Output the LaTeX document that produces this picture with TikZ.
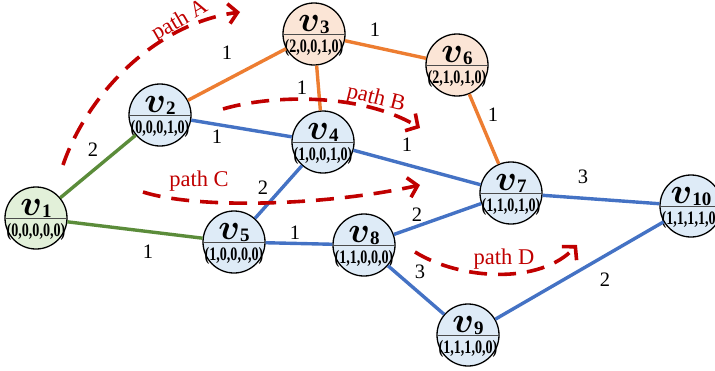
\RequirePackage{fix-cm}
\documentclass[tikz,border=0pt]{standalone}
\usepackage{fontspec}
\setmainfont{Liberation Serif}
\usepackage{bm}
\usepackage{graphicx}
\usetikzlibrary{arrows.meta}
\definecolor{fgreen}{HTML}{E2F0D9}
\definecolor{fblue}{HTML}{DEEBF7}
\definecolor{fpeach}{HTML}{FBE5D6}
\definecolor{egreen}{HTML}{5B8C3A}
\definecolor{eorange}{HTML}{ED7D31}
\definecolor{eblue}{HTML}{4472C4}
\definecolor{pathred}{HTML}{C00000}
\tikzset{
  vnode/.style={circle, draw=black, line width=1.3pt, minimum size=62pt, inner sep=0pt},
  divider/.style={draw=black!70, line width=0.6pt},
  vlabel/.style={inner sep=0pt},
  tlabel/.style={inner sep=0pt, font=\fontsize{19}{19}\selectfont\bfseries},
  gedge/.style={draw=egreen, line width=3.4pt},
  oedge/.style={draw=eorange, line width=3.4pt},
  bedge/.style={draw=eblue, line width=3.4pt},
  wlabel/.style={inner sep=0pt, font=\fontsize{20.5}{20.5}\selectfont},
  pathline/.style={draw=pathred, line width=3.6pt, dash pattern=on 18pt off 11pt,
    -{Straight Barb[length=9pt,width=20pt,line width=3.6pt]}},
  plabel/.style={inner sep=0pt, text=pathred, font=\fontsize{22.5}{22.5}\selectfont},
}
\newcommand{\vtx}[6]{%
  \node[vnode, fill=#4] (#1) at (#2,#3) {};
  \draw[divider] (#1.west) -- (#1.east);
  \node[vlabel, anchor=base, yshift=2.5pt] (#1t) at (#1.center)
    {{\fontsize{36}{36}\selectfont$\bm{v}$}\raisebox{-1.5pt}{\fontsize{19}{19}\selectfont\bfseries #5}};
  \node[tlabel, anchor=base, yshift=-18pt] (#1b) at (#1.center) {\scalebox{0.74}[1]{(#6)}};
}
\begin{document}
\begin{tikzpicture}[x=1pt, y=-1pt]
\useasboundingbox (0,0) rectangle (715,370);
% vertices
\vtx{v1}{36}{218}{fgreen}{1}{0,0,0,0,0}
\vtx{v2}{160}{115}{fblue}{2}{0,0,0,1,0}
\vtx{v3}{314}{34}{fpeach}{3}{2,0,0,1,0}
\vtx{v6}{457}{65}{fpeach}{6}{2,1,0,1,0}
\vtx{v4}{323}{142}{fblue}{4}{1,0,0,1,0}
\vtx{v5}{234}{242}{fblue}{5}{1,0,0,0,0}
\vtx{v8}{364}{245}{fblue}{8}{1,1,0,0,0}
\vtx{v7}{511}{193}{fblue}{7}{1,1,0,1,0}
\vtx{v10}{691}{206}{fblue}{10}{1,1,1,1,0}
\vtx{v9}{468}{335}{fblue}{9}{1,1,1,0,0}
% edges
\draw[gedge] (v1) -- (v2);
\draw[gedge] (v1) -- (v5);
\draw[oedge] (v2) -- (v3);
\draw[oedge] (v3) -- (v4);
\draw[oedge] (v3) -- (v6);
\draw[oedge] (v6) -- (v7);
\draw[bedge] (v2) -- (v4);
\draw[bedge] (v4) -- (v7);
\draw[bedge] (v5) -- (v4);
\draw[bedge] (v5) -- (v8);
\draw[bedge] (v8) -- (v7);
\draw[bedge] (v8) -- (v9);
\draw[bedge] (v7) -- (v10);
\draw[bedge] (v9) -- (v10);
% weights
\node[wlabel] (w12) at (93,150) {2};
\node[wlabel] (w15) at (148,252) {1};
\node[wlabel] (w23) at (227,53) {1};
\node[wlabel] (w24) at (217,137) {1};
\node[wlabel] (w34) at (302,88) {1};
\node[wlabel] (w36) at (375,30) {1};
\node[wlabel] (w67) at (493,115) {1};
\node[wlabel] (w47) at (407,145) {1};
\node[wlabel] (w54) at (263,188) {2};
\node[wlabel] (w58) at (295,233) {1};
\node[wlabel] (w87) at (417,215) {2};
\node[wlabel] (w89) at (420,272) {3};
\node[wlabel] (w710) at (583,177) {3};
\node[wlabel] (w910) at (605,280) {2};
% paths
\coordinate (pa0) at (63,165); \coordinate (pa1) at (240,12);
\coordinate (pb0) at (223,109); \coordinate (pb1) at (420,128);
\coordinate (pc0) at (143,192); \coordinate (pc1) at (420,185);
\coordinate (pd0) at (415,252); \coordinate (pd1) at (577,245);
\draw[pathline] (pa0) .. controls (85,100) and (150,25) .. (pa1);
\draw[pathline] (pb0) .. controls (270,95) and (360,92) .. (pb1);
\draw[pathline] (pc0) .. controls (200,210) and (330,205) .. (pc1);
\draw[pathline] (pd0) .. controls (460,280) and (540,285) .. (pd1);
\node[plabel, rotate=30] (la) at (180,21) {path A};
\node[plabel, rotate=-14] (lb) at (376,99) {path B};
\node[plabel] (lc) at (199,181) {path C};
\node[plabel] (ld) at (504,259) {path D};
\end{tikzpicture}
\end{document}
